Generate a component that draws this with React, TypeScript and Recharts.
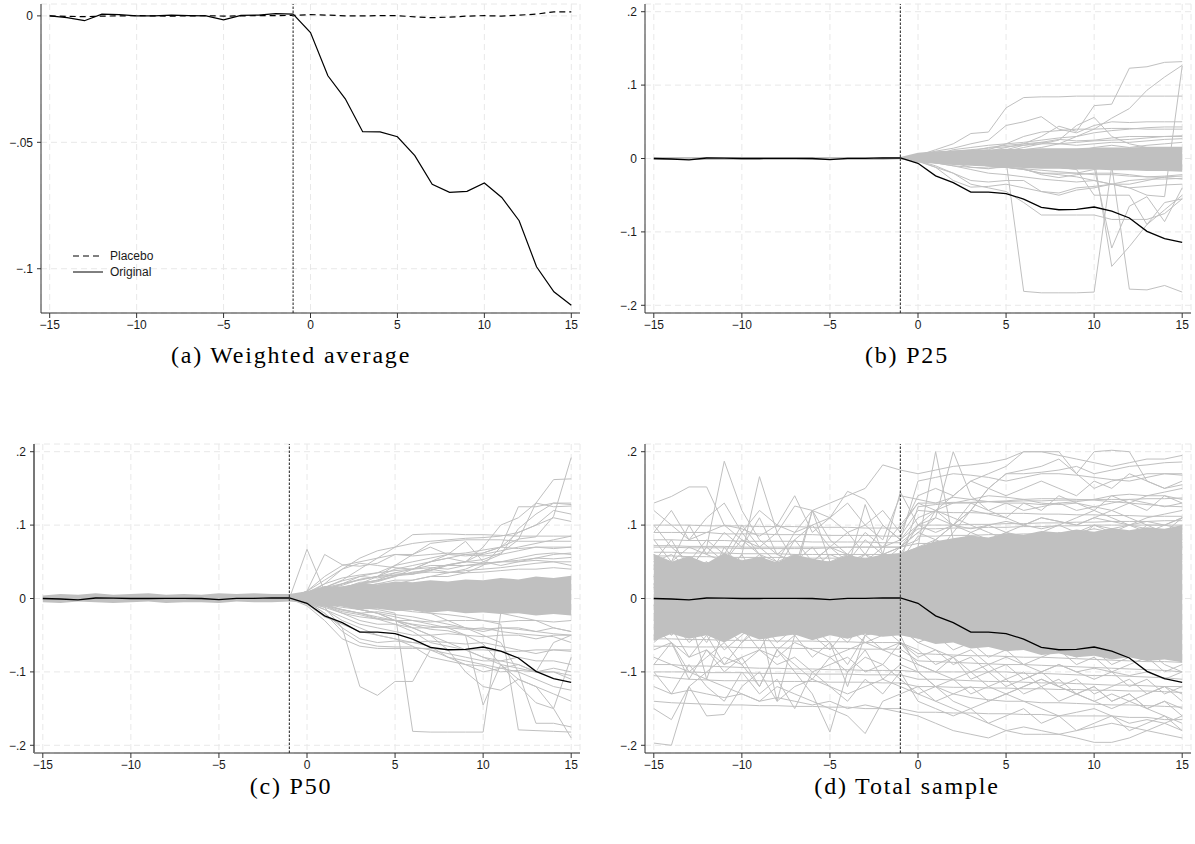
import { ComposedChart, Line, Area, XAxis, YAxis, CartesianGrid, ReferenceLine, Legend } from 'recharts'

// event time, periods relative to treatment
const periods = [-15, -14, -13, -12, -11, -10, -9, -8, -7, -6, -5, -4, -3, -2, -1, 0, 1, 2, 3, 4, 5, 6, 7, 8, 9, 10, 11, 12, 13, 14, 15]
const xTicks = [-15, -10, -5, 0, 5, 10, 15]
const avgTicks = [-0.1, -0.05, 0]
const spreadTicks = [-0.2, -0.1, 0, 0.1, 0.2]

const original = [0, -0.0007, -0.0019, 0.0007, 0.0005, 0, 0, 0.0003, 0.0001, 0, -0.0016, 0.0002, 0.0003, 0.0009, 0.0007,
  -0.0066, -0.0237, -0.0328, -0.0458, -0.0459, -0.0478, -0.0553, -0.0666, -0.0698, -0.0694, -0.0661, -0.0718, -0.081, -0.0992, -0.1091, -0.1144]
const placebo = [0, -0.0002, -0.0003, -0.0001, 0, 0.0001, 0, -0.0001, 0, 0.0001, -0.0001, 0, 0.0001, 0.0001, 0.0002,
  0.0005, 0.0003, 0, 0, 0.0001, 0.0001, -0.0004, -0.0007, -0.0005, -0.0001, 0.0001, -0.0001, 0.0003, 0.0007, 0.0016, 0.0016]

// dense core of the grey bundles (low / high edge)
const p25Low = [-0.002, -0.002, -0.002, -0.002, -0.002, -0.002, -0.002, -0.002, -0.002, -0.002, -0.002, -0.002, -0.002, -0.002, -0.001,
  -0.005, -0.007, -0.009, -0.01, -0.011, -0.012, -0.013, -0.014, -0.014, -0.015, -0.015, -0.016, -0.016, -0.017, -0.017, -0.018]
const p25High = [0.002, 0.002, 0.002, 0.002, 0.002, 0.002, 0.002, 0.002, 0.002, 0.002, 0.002, 0.002, 0.002, 0.002, 0.002,
  0.008, 0.01, 0.011, 0.012, 0.012, 0.013, 0.013, 0.014, 0.014, 0.014, 0.015, 0.015, 0.015, 0.016, 0.016, 0.016]
const p50Low = [-0.005, -0.006, -0.004, -0.005, -0.006, -0.005, -0.004, -0.006, -0.005, -0.005, -0.006, -0.004, -0.005, -0.005, -0.004,
  -0.006, -0.011, -0.01, -0.015, -0.014, -0.017, -0.016, -0.019, -0.017, -0.02, -0.019, -0.021, -0.02, -0.023, -0.021, -0.023]
const p50High = [0.004, 0.006, 0.005, 0.007, 0.005, 0.006, 0.007, 0.005, 0.006, 0.005, 0.007, 0.006, 0.007, 0.006, 0.006,
  0.01, 0.017, 0.016, 0.021, 0.019, 0.023, 0.022, 0.025, 0.023, 0.026, 0.025, 0.028, 0.026, 0.03, 0.028, 0.031]
const totalLow = [-0.058, -0.048, -0.055, -0.05, -0.06, -0.047, -0.056, -0.052, -0.049, -0.057, -0.05, -0.055, -0.048, -0.052, -0.05,
  -0.055, -0.062, -0.06, -0.068, -0.066, -0.072, -0.07, -0.077, -0.075, -0.08, -0.078, -0.083, -0.08, -0.085, -0.083, -0.087]
const totalHigh = [0.06, 0.05, 0.058, 0.048, 0.062, 0.052, 0.057, 0.049, 0.06, 0.054, 0.05, 0.059, 0.055, 0.06, 0.062,
  0.07, 0.078, 0.082, 0.086, 0.083, 0.089, 0.087, 0.092, 0.09, 0.094, 0.091, 0.096, 0.093, 0.097, 0.095, 0.1]

// P25 placebo paths, from t = -1 to 15
const p25Grey = [
  [0, 0.004, 0.012, 0.02, 0.034, 0.036, 0.069, 0.083, 0.084, 0.084, 0.085, 0.085, 0.085, 0.085, 0.085, 0.085, 0.085],
  [0, 0.002, 0.004, 0.006, 0.008, 0.01, 0.015, 0.02, 0.03, 0.044, 0.037, 0.072, 0.074, 0.123, 0.125, 0.131, 0.132],
  [0, 0.003, 0.005, 0.006, 0.008, 0.01, 0.01, 0.012, 0.015, 0.02, 0.03, 0.04, 0.055, 0.068, 0.093, 0.111, 0.127],
  [0, -0.001, -0.003, -0.005, -0.008, -0.01, -0.012, -0.015, -0.02, -0.022, -0.025, -0.03, -0.035, -0.04, -0.05, -0.052, 0.126],
  [0, 0.004, 0.01, 0.014, 0.02, 0.025, 0.045, 0.05, 0.057, 0.04, 0.035, 0.045, 0.05, 0.049, 0.05, 0.05, 0.05],
  [0, 0.002, 0.004, 0.006, 0.008, 0.009, 0.01, 0.015, 0.02, 0.025, 0.045, 0.056, 0.03, 0.02, 0.015, 0.01, 0.01],
  [0, 0.003, 0.006, 0.008, 0.01, 0.012, 0.02, 0.03, 0.036, 0.038, 0.04, 0.04, 0.041, 0.041, 0.04, 0.04, 0.04],
  [0, 0.002, 0.004, 0.008, 0.01, 0.011, 0.012, 0.018, 0.022, 0.026, 0.024, 0.025, 0.028, 0.03, 0.03, 0.03, 0.031],
  [0, -0.002, -0.004, -0.006, -0.005, -0.004, -0.003, -0.181, -0.183, -0.183, -0.183, -0.182, -0.01, -0.012, -0.01, -0.012, -0.01],
  [0, 0, -0.003, -0.005, -0.008, -0.01, -0.012, -0.015, -0.02, -0.02, -0.02, -0.015, -0.01, -0.178, -0.179, -0.173, -0.182],
  [0, 0.001, 0.002, 0.002, 0.003, 0.003, 0.004, 0.004, 0.004, 0.003, 0.002, 0, -0.147, -0.12, -0.09, -0.07, -0.05],
  [0, -0.001, -0.002, -0.003, -0.004, -0.005, -0.006, -0.007, -0.008, -0.008, -0.01, -0.012, -0.122, -0.065, -0.052, -0.086, -0.04],
  [0, -0.004, -0.012, -0.02, -0.035, -0.04, -0.045, -0.06, -0.077, -0.077, -0.077, -0.077, -0.083, -0.083, -0.083, -0.075, -0.055],
  [0, -0.003, -0.012, -0.03, -0.039, -0.038, -0.035, -0.04, -0.045, -0.05, -0.043, -0.04, -0.035, -0.03, -0.028, -0.028, -0.027],
  [0, -0.003, -0.01, -0.02, -0.03, -0.032, -0.03, -0.03, -0.045, -0.047, -0.04, -0.038, -0.035, -0.035, -0.03, -0.025, -0.024],
  [0, -0.002, -0.006, -0.01, -0.012, -0.013, -0.012, -0.014, -0.022, -0.026, -0.022, -0.02, -0.02, -0.022, -0.025, -0.024, -0.022],
  [0, 0, -0.002, -0.004, -0.005, -0.006, -0.008, -0.01, -0.012, -0.012, -0.015, -0.05, -0.05, -0.05, -0.09, -0.06, -0.055],
  [0, 0.002, 0.005, 0.008, 0.01, 0.015, 0.018, 0.02, 0.022, 0.02, 0.018, 0.02, 0.022, 0.022, 0.024, 0.026, 0.027],
  [0, 0, -0.004, -0.006, -0.012, -0.014, -0.01, -0.008, -0.005, 0, 0.01, 0.015, 0.018, 0.015, 0.018, 0.02, 0.022],
  [0, 0.003, 0.006, 0.01, 0.012, 0.014, 0.016, 0.018, 0.02, 0.02, 0.022, 0.024, 0.025, 0.026, 0.028, 0.03, 0.03],
  [0, -0.002, -0.004, -0.006, -0.008, -0.01, -0.012, -0.014, -0.016, -0.018, -0.02, -0.022, -0.022, -0.024, -0.025, -0.026, -0.028],
  [0, 0.002, 0.005, 0.012, 0.015, 0.018, 0.02, 0.022, 0.025, 0.028, 0.03, 0.035, 0.038, 0.04, 0.042, 0.043, 0.043],
  [0, -0.003, -0.006, -0.01, -0.015, -0.02, -0.022, -0.025, -0.028, -0.03, -0.032, -0.03, -0.035, -0.04, -0.038, -0.036, -0.035],
]

// P50 placebo paths, from t = -1 to 15
const p50Grey = [
  [0, 0.067, 0.01, 0.008, 0.01, 0.012, 0.015, 0.01, 0.012, 0.015, 0.012, 0.01, 0.012, 0.015, 0.015, 0.013, 0.012],
  [0, 0.01, 0.06, 0.046, 0.044, 0.048, 0.06, 0.06, 0.07, 0.06, 0.062, 0.066, 0.07, 0.068, 0.07, 0.07, 0.07],
  [0, 0.006, 0.012, 0.014, 0.022, 0.024, 0.031, 0.033, 0.041, 0.046, 0.05, 0.062, 0.07, 0.081, 0.084, 0.112, 0.192],
  [0, 0.004, 0.011, 0.016, 0.019, 0.023, 0.03, 0.036, 0.038, 0.046, 0.05, 0.053, 0.062, 0.08, 0.13, 0.162, 0.163],
  [0, 0.006, 0.012, 0.02, 0.025, 0.03, 0.04, 0.045, 0.05, 0.055, 0.06, 0.062, 0.07, 0.125, 0.125, 0.13, 0.128],
  [0, 0.008, 0.015, 0.025, 0.04, 0.055, 0.07, 0.087, 0.088, 0.088, 0.087, 0.087, 0.086, 0.085, 0.085, 0.085, 0.085],
  [0, 0.006, 0.015, 0.02, 0.03, 0.035, 0.045, 0.06, 0.075, 0.078, 0.08, 0.08, 0.08, 0.078, 0.078, 0.078, 0.078],
  [0, 0.004, 0.01, 0.015, 0.02, 0.025, 0.03, 0.04, 0.05, 0.06, 0.078, 0.05, 0.045, 0.05, 0.055, 0.06, 0.062],
  [0, 0.006, 0.01, 0.014, 0.02, 0.025, 0.035, 0.04, 0.045, 0.045, 0.045, 0.048, 0.05, 0.05, 0.052, 0.05, 0.05],
  [0, 0.004, 0.01, 0.02, 0.026, 0.03, 0.032, 0.035, 0.04, 0.036, 0.035, 0.036, 0.038, 0.04, 0.04, 0.042, 0.04],
  [0, 0.003, 0.008, 0.01, 0.015, 0.02, 0.025, 0.025, 0.03, 0.035, 0.04, 0.05, 0.06, 0.095, 0.115, 0.13, 0.13],
  [0, 0.004, 0.008, 0.012, 0.016, 0.02, 0.02, 0.025, 0.03, 0.03, 0.035, 0.045, 0.07, 0.09, 0.1, 0.12, 0.115],
  [0, -0.003, -0.008, -0.01, -0.012, -0.015, -0.02, -0.181, -0.182, -0.182, -0.182, -0.182, -0.02, -0.025, -0.03, -0.04, -0.045],
  [0, -0.002, -0.005, -0.008, -0.01, -0.012, -0.015, -0.018, -0.02, -0.022, -0.025, -0.03, -0.035, -0.179, -0.18, -0.181, -0.182],
  [0, -0.004, -0.012, -0.04, -0.12, -0.132, -0.113, -0.113, -0.07, -0.08, -0.09, -0.1, -0.095, -0.09, -0.1, -0.1, -0.11],
  [0, -0.005, -0.009, -0.016, -0.02, -0.027, -0.03, -0.036, -0.042, -0.044, -0.05, -0.062, -0.09, -0.118, -0.142, -0.15, -0.19],
  [0, -0.002, -0.005, -0.01, -0.015, -0.02, -0.025, -0.03, -0.035, -0.04, -0.05, -0.145, -0.09, -0.11, -0.12, -0.15, -0.08],
  [0, -0.005, -0.015, -0.03, -0.04, -0.05, -0.055, -0.065, -0.08, -0.085, -0.09, -0.092, -0.1, -0.098, -0.1, -0.1, -0.105],
  [0, -0.004, -0.02, -0.045, -0.06, -0.065, -0.066, -0.066, -0.07, -0.075, -0.08, -0.085, -0.085, -0.08, -0.085, -0.085, -0.09],
  [0, -0.01, -0.03, -0.055, -0.065, -0.068, -0.068, -0.068, -0.068, -0.07, -0.07, -0.07, -0.072, -0.072, -0.07, -0.07, -0.07],
  [0, -0.006, -0.015, -0.025, -0.035, -0.04, -0.045, -0.05, -0.05, -0.048, -0.05, -0.052, -0.05, -0.05, -0.055, -0.05, -0.05],
  [0, -0.004, -0.01, -0.02, -0.03, -0.035, -0.035, -0.04, -0.04, -0.038, -0.04, -0.042, -0.04, -0.04, -0.045, -0.04, -0.045],
  [0, -0.003, -0.008, -0.015, -0.02, -0.025, -0.03, -0.03, -0.032, -0.03, -0.03, -0.03, -0.032, -0.03, -0.03, -0.032, -0.03],
  [0, -0.003, -0.008, -0.012, -0.015, -0.02, -0.03, -0.04, -0.05, -0.07, -0.1, -0.12, -0.125, -0.11, -0.12, -0.13, -0.14],
  [0, -0.002, -0.006, -0.01, -0.015, -0.02, -0.03, -0.04, -0.05, -0.06, -0.07, -0.08, -0.09, -0.095, -0.1, -0.06, -0.05],
  [0, -0.002, -0.004, -0.006, -0.008, -0.01, -0.012, -0.015, -0.02, -0.03, -0.04, -0.05, -0.06, -0.1, -0.17, -0.17, -0.175],
  [0, 0.01, 0.03, 0.045, 0.05, 0.055, 0.06, 0.058, 0.06, 0.062, 0.06, 0.058, 0.06, 0.065, 0.07, 0.068, 0.07],
  [0, 0.005, 0.02, 0.04, 0.048, 0.045, 0.042, 0.04, 0.05, 0.055, 0.05, 0.07, 0.1, 0.11, 0.13, 0.125, 0.126],
  [0, 0.008, 0.02, 0.028, 0.032, 0.035, 0.038, 0.04, 0.042, 0.04, 0.045, 0.046, 0.05, 0.052, 0.055, 0.054, 0.056],
  [0, -0.006, -0.012, -0.02, -0.025, -0.028, -0.03, -0.035, -0.038, -0.04, -0.042, -0.04, -0.045, -0.048, -0.05, -0.052, -0.06],
  [0, 0.004, 0.015, 0.024, 0.03, 0.028, 0.032, 0.034, 0.036, 0.035, 0.038, 0.04, 0.042, 0.045, 0.048, 0.05, 0.045],
  [0, -0.008, -0.025, -0.035, -0.045, -0.05, -0.055, -0.06, -0.058, -0.06, -0.062, -0.06, -0.065, -0.07, -0.075, -0.07, -0.072],
  [0, 0.01, 0.025, 0.04, 0.055, 0.065, 0.07, 0.075, 0.078, 0.08, 0.082, 0.083, 0.085, 0.09, 0.1, 0.11, 0.105],
  [0, -0.005, -0.02, -0.04, -0.055, -0.06, -0.058, -0.06, -0.065, -0.08, -0.085, -0.09, -0.095, -0.1, -0.11, -0.12, -0.125],
  [0, 0.003, 0.008, 0.012, 0.02, 0.03, 0.045, 0.05, 0.055, 0.06, 0.058, 0.06, 0.065, 0.07, 0.075, 0.08, 0.085],
  [0, -0.004, -0.01, -0.018, -0.022, -0.028, -0.035, -0.045, -0.06, -0.065, -0.07, -0.08, -0.085, -0.09, -0.1, -0.095, -0.1],
  [0, 0.005, 0.012, 0.018, 0.026, 0.03, 0.035, 0.033, 0.038, 0.045, 0.05, 0.048, 0.05, 0.055, 0.06, 0.062, 0.06],
  [0, -0.003, -0.01, -0.015, -0.02, -0.018, -0.022, -0.025, -0.03, -0.035, -0.04, -0.045, -0.04, -0.042, -0.045, -0.048, -0.05],
]

// total sample placebo paths, from t = -15 to 15
const totalGrey = [
  [0.13, 0.139, 0.152, 0.152, 0.1, 0.08, 0.06, 0.05, 0.06, 0.05, 0.07, 0.06, 0.05, 0.06, 0.07, 0.08, 0.12, 0.13, 0.135, 0.14, 0.138, 0.135, 0.13, 0.128, 0.13, 0.125, 0.12, 0.13, 0.14, 0.14, 0.135],
  [0.05, 0.06, 0.04, 0.07, 0.187, 0.12, 0.08, 0.06, 0.05, 0.04, 0.05, 0.04, 0.03, 0.04, 0.05, 0.06, 0.05, 0.07, 0.06, 0.05, 0.06, 0.07, 0.08, 0.07, 0.06, 0.07, 0.08, 0.07, 0.06, 0.07, 0.08],
  [0.03, 0.02, 0.04, 0.05, 0.03, 0.06, 0.166, 0.09, 0.05, 0.04, 0.03, 0.05, 0.06, 0.04, 0.05, 0.03, 0.04, 0.05, 0.03, 0.04, 0.06, 0.05, 0.04, 0.05, 0.06, 0.05, 0.04, 0.06, 0.05, 0.04, 0.05],
  [0.06, 0.05, 0.07, 0.06, 0.05, 0.08, 0.07, 0.09, 0.126, 0.12, 0.11, 0.146, 0.135, 0.1, 0.08, 0.1, 0.11, 0.1, 0.12, 0.115, 0.11, 0.1, 0.11, 0.105, 0.1, 0.11, 0.12, 0.11, 0.1, 0.1, 0.11],
  [0.02, 0.03, 0.02, 0.04, 0.05, 0.03, 0.04, 0.05, 0.04, 0.12, 0.13, 0.14, 0.15, 0.182, 0.175, 0.17, 0.175, 0.18, 0.182, 0.185, 0.19, 0.2, 0.2, 0.195, 0.19, 0.185, 0.18, 0.185, 0.19, 0.19, 0.195],
  [0.03, 0.04, 0.05, 0.03, 0.04, 0.05, 0.04, 0.03, 0.05, 0.04, 0.06, 0.05, 0.04, 0.05, 0.06, 0.1, 0.12, 0.14, 0.16, 0.17, 0.18, 0.2, 0.2, 0.2, 0.17, 0.15, 0.16, 0.165, 0.17, 0.17, 0.17],
  [0.01, 0.02, 0.03, 0.02, 0.01, 0.02, 0.03, 0.02, 0.03, 0.02, 0.03, 0.04, 0.03, 0.05, 0.06, 0.07, 0.2, 0.08, 0.06, 0.05, 0.07, 0.06, 0.05, 0.06, 0.07, 0.06, 0.05, 0.06, 0.07, 0.06, 0.07],
  [0.04, 0.03, 0.05, 0.04, 0.03, 0.02, 0.04, 0.05, 0.03, 0.04, 0.05, 0.04, 0.06, 0.05, 0.07, 0.09, 0.11, 0.2, 0.14, 0.12, 0.13, 0.12, 0.125, 0.13, 0.12, 0.125, 0.13, 0.135, 0.13, 0.125, 0.13],
  [0.02, 0.01, 0.02, 0.03, 0.02, 0.03, 0.02, 0.03, 0.04, 0.03, 0.02, 0.03, 0.04, 0.03, 0.04, 0.06, 0.08, 0.1, 0.12, 0.15, 0.17, 0.175, 0.18, 0.19, 0.17, 0.2, 0.202, 0.2, 0.16, 0.15, 0.155],
  [0.09, 0.09, 0.09, 0.09, 0.088, 0.088, 0.088, 0.087, 0.087, 0.087, 0.086, 0.086, 0.086, 0.085, 0.085, 0.12, 0.118, 0.117, 0.117, 0.116, 0.116, 0.116, 0.115, 0.115, 0.114, 0.114, 0.113, 0.113, 0.112, 0.112, 0.112],
  [0.07, 0.07, 0.069, 0.069, 0.069, 0.068, 0.068, 0.068, 0.068, 0.068, 0.069, 0.07, 0.07, 0.07, 0.07, 0.075, 0.075, 0.076, 0.076, 0.077, 0.077, 0.078, 0.077, 0.076, 0.075, 0.074, 0.074, 0.074, 0.075, 0.076, 0.076],
  [0.058, 0.058, 0.057, 0.057, 0.056, 0.056, 0.056, 0.056, 0.055, 0.055, 0.055, 0.055, 0.055, 0.055, 0.055, 0.06, 0.062, 0.063, 0.063, 0.064, 0.065, 0.066, 0.066, 0.067, 0.068, 0.068, 0.069, 0.07, 0.07, 0.07, 0.07],
  [0.12, 0.1, 0.08, 0.09, 0.1, 0.095, 0.085, 0.1, 0.09, 0.1, 0.11, 0.09, 0.1, 0.08, 0.14, 0.135, 0.13, 0.138, 0.135, 0.132, 0.13, 0.13, 0.128, 0.13, 0.132, 0.135, 0.14, 0.142, 0.14, 0.145, 0.15],
  [0, 0.01, 0.02, 0.01, 0, 0.02, 0.01, 0.02, 0.03, 0.02, 0.01, 0.02, 0.03, 0.02, 0.03, 0.04, 0.06, 0.09, 0.12, 0.15, 0.17, 0.17, 0.172, 0.175, 0.18, 0.17, 0.175, 0.18, 0.182, 0.185, 0.186],
  [-0.197, -0.2, -0.12, -0.1, -0.08, -0.09, -0.07, -0.08, -0.06, -0.07, -0.08, -0.07, -0.06, -0.07, -0.08, -0.09, -0.1, -0.11, -0.1, -0.12, -0.13, -0.12, -0.11, -0.12, -0.13, -0.14, -0.13, -0.14, -0.15, -0.16, -0.17],
  [-0.15, -0.165, -0.12, -0.16, -0.158, -0.12, -0.1, -0.14, -0.12, -0.11, -0.12, -0.13, -0.12, -0.11, -0.12, -0.13, -0.12, -0.14, -0.15, -0.14, -0.13, -0.14, -0.15, -0.16, -0.155, -0.15, -0.16, -0.17, -0.165, -0.17, -0.18],
  [-0.08, -0.09, -0.1, -0.11, -0.12, -0.13, -0.14, -0.12, -0.13, -0.14, -0.15, -0.16, -0.184, -0.14, -0.13, -0.12, -0.14, -0.15, -0.16, -0.17, -0.18, -0.185, -0.185, -0.185, -0.19, -0.196, -0.196, -0.19, -0.18, -0.17, -0.16],
  [-0.09, -0.09, -0.092, -0.092, -0.093, -0.094, -0.095, -0.095, -0.096, -0.096, -0.097, -0.097, -0.098, -0.098, -0.098, -0.1, -0.1, -0.1, -0.1, -0.1, -0.1, -0.102, -0.102, -0.103, -0.104, -0.105, -0.105, -0.106, -0.107, -0.108, -0.11],
  [-0.105, -0.108, -0.11, -0.111, -0.112, -0.112, -0.112, -0.113, -0.113, -0.113, -0.114, -0.114, -0.114, -0.115, -0.115, -0.12, -0.12, -0.121, -0.121, -0.122, -0.122, -0.123, -0.123, -0.124, -0.124, -0.125, -0.125, -0.126, -0.126, -0.127, -0.128],
  [-0.06, -0.04, -0.08, -0.05, -0.09, -0.06, -0.04, -0.07, -0.05, -0.08, -0.06, -0.09, -0.05, -0.07, -0.06, -0.08, -0.07, -0.09, -0.08, -0.1, -0.09, -0.11, -0.1, -0.09, -0.1, -0.11, -0.1, -0.12, -0.11, -0.13, -0.12],
  [0.05, 0.08, 0.04, 0.07, 0.05, 0.09, 0.06, 0.04, 0.08, 0.05, 0.07, 0.05, 0.08, 0.06, 0.07, 0.09, 0.08, 0.1, 0.09, 0.1, 0.09, 0.1, 0.095, 0.1, 0.09, 0.1, 0.095, 0.1, 0.105, 0.1, 0.11],
  [-0.14, -0.142, -0.143, -0.144, -0.145, -0.145, -0.146, -0.146, -0.147, -0.147, -0.148, -0.148, -0.15, -0.15, -0.15, -0.155, -0.155, -0.156, -0.156, -0.157, -0.157, -0.158, -0.158, -0.16, -0.16, -0.16, -0.16, -0.162, -0.162, -0.165, -0.165],
  [-0.04, -0.06, -0.1, -0.08, -0.06, -0.09, -0.12, -0.07, -0.1, -0.13, -0.182, -0.1, -0.08, -0.09, -0.06, -0.07, -0.09, -0.08, -0.1, -0.09, -0.11, -0.1, -0.12, -0.11, -0.13, -0.12, -0.14, -0.13, -0.15, -0.14, -0.16],
  [0, 0.02, -0.01, 0.03, 0.01, 0.04, 0.02, 0, 0.03, 0.05, 0.02, 0.04, 0.03, 0.06, 0.145, 0.1, 0.09, 0.1, 0.095, 0.1, 0.105, 0.1, 0.11, 0.105, 0.1, 0.11, 0.105, 0.1, 0.11, 0.115, 0.12],
  [0.04, 0.04, 0.04, 0.041, 0.041, 0.042, 0.042, 0.042, 0.043, 0.043, 0.044, 0.044, 0.045, 0.045, 0.045, 0.05, 0.05, 0.051, 0.052, 0.052, 0.053, 0.054, 0.054, 0.055, 0.056, 0.056, 0.057, 0.058, 0.058, 0.06, 0.06],
  [-0.02, -0.05, -0.03, -0.06, -0.02, -0.04, -0.07, -0.03, -0.05, -0.02, -0.04, -0.06, -0.03, -0.05, -0.04, -0.06, -0.05, -0.07, -0.06, -0.08, -0.07, -0.09, -0.08, -0.07, -0.09, -0.08, -0.1, -0.09, -0.08, -0.1, -0.09],
  [-0.12, -0.13, -0.125, -0.13, -0.135, -0.13, -0.14, -0.135, -0.14, -0.145, -0.14, -0.15, -0.145, -0.15, -0.155, -0.16, -0.17, -0.18, -0.185, -0.19, -0.18, -0.175, -0.18, -0.185, -0.18, -0.175, -0.17, -0.175, -0.18, -0.185, -0.19],
  [0.02, 0.03, 0.04, 0.03, 0.02, 0.03, 0.04, 0.05, 0.04, 0.03, 0.05, 0.06, 0.05, 0.07, 0.08, 0.16, 0.165, 0.17, 0.168, 0.165, 0.16, 0.165, 0.17, 0.17, 0.168, 0.165, 0.162, 0.16, 0.165, 0.17, 0.168],
  [0.1, 0.07, 0.05, 0.08, 0.06, 0.1, 0.07, 0.05, 0.09, 0.12, 0.08, 0.06, 0.09, 0.07, 0.1, 0.13, 0.12, 0.11, 0.1, 0.09, 0.08, 0.085, 0.09, 0.1, 0.11, 0.12, 0.11, 0.1, 0.09, 0.1, 0.095],
  [-0.07, -0.06, -0.08, -0.07, -0.09, -0.08, -0.07, -0.09, -0.08, -0.1, -0.09, -0.08, -0.1, -0.09, -0.11, -0.13, -0.14, -0.13, -0.12, -0.14, -0.13, -0.12, -0.11, -0.12, -0.13, -0.14, -0.15, -0.14, -0.13, -0.12, -0.13],
  [0.06, 0.03, 0.05, 0.02, 0.07, 0.04, 0.06, 0.03, 0.05, 0.07, 0.04, 0.06, 0.03, 0.05, 0.04, 0.07, 0.08, 0.07, 0.09, 0.08, 0.09, 0.085, 0.09, 0.08, 0.09, 0.095, 0.09, 0.1, 0.095, 0.09, 0.1],
  [-0.05, -0.03, -0.06, -0.04, -0.07, -0.05, -0.03, -0.06, -0.04, -0.05, -0.07, -0.04, -0.06, -0.05, -0.04, -0.06, -0.07, -0.08, -0.07, -0.09, -0.08, -0.09, -0.1, -0.09, -0.1, -0.095, -0.1, -0.105, -0.1, -0.11, -0.1],
  [0.072, 0.072, 0.071, 0.071, 0.071, 0.07, 0.07, 0.07, 0.07, 0.07, 0.07, 0.07, 0.07, 0.07, 0.07, 0.1, 0.1, 0.1, 0.101, 0.101, 0.102, 0.102, 0.103, 0.103, 0.104, 0.104, 0.105, 0.105, 0.105, 0.106, 0.106],
  [-0.065, -0.065, -0.066, -0.066, -0.066, -0.067, -0.067, -0.067, -0.068, -0.068, -0.068, -0.068, -0.069, -0.069, -0.069, -0.085, -0.086, -0.087, -0.088, -0.089, -0.09, -0.09, -0.091, -0.092, -0.093, -0.094, -0.095, -0.096, -0.097, -0.098, -0.1],
  [0.08, 0.05, 0.1, 0.06, 0.09, 0.07, 0.11, 0.06, 0.08, 0.1, 0.07, 0.09, 0.06, 0.1, 0.08, 0.11, 0.12, 0.1, 0.13, 0.12, 0.11, 0.13, 0.12, 0.14, 0.13, 0.12, 0.14, 0.13, 0.12, 0.14, 0.13],
  [-0.09, -0.06, -0.11, -0.07, -0.1, -0.08, -0.12, -0.07, -0.09, -0.11, -0.08, -0.1, -0.07, -0.11, -0.09, -0.1, -0.12, -0.11, -0.13, -0.12, -0.11, -0.13, -0.12, -0.14, -0.13, -0.12, -0.14, -0.13, -0.15, -0.14, -0.15],
  [0.045, 0.046, 0.046, 0.047, 0.047, 0.048, 0.048, 0.048, 0.049, 0.049, 0.05, 0.05, 0.05, 0.051, 0.051, 0.085, 0.085, 0.086, 0.086, 0.087, 0.087, 0.088, 0.088, 0.089, 0.089, 0.09, 0.09, 0.09, 0.091, 0.091, 0.092],
  [-0.055, -0.055, -0.056, -0.056, -0.057, -0.057, -0.057, -0.058, -0.058, -0.058, -0.059, -0.059, -0.06, -0.06, -0.06, -0.075, -0.076, -0.077, -0.078, -0.078, -0.079, -0.08, -0.08, -0.081, -0.082, -0.083, -0.084, -0.085, -0.086, -0.086, -0.087],
  [0.02, 0.04, 0.01, 0.05, 0.03, 0.06, 0.02, 0.05, 0.03, 0.12, 0.05, 0.04, 0.128, 0.06, 0.04, 0.05, 0.07, 0.06, 0.08, 0.07, 0.09, 0.08, 0.07, 0.09, 0.08, 0.1, 0.09, 0.08, 0.1, 0.09, 0.11],
  [-0.03, -0.05, -0.02, -0.11, -0.04, -0.06, -0.03, -0.14, -0.05, -0.04, -0.06, -0.12, -0.05, -0.04, -0.06, -0.09, -0.1, -0.08, -0.11, -0.1, -0.12, -0.11, -0.1, -0.12, -0.11, -0.13, -0.12, -0.11, -0.13, -0.12, -0.14],
  [0.03, 0.035, 0.03, 0.04, 0.035, 0.03, 0.04, 0.035, 0.03, 0.04, 0.035, 0.04, 0.045, 0.04, 0.05, 0.125, 0.128, 0.13, 0.13, 0.132, 0.133, 0.135, 0.136, 0.136, 0.135, 0.134, 0.132, 0.13, 0.128, 0.126, 0.125],
  [-0.03, -0.035, -0.03, -0.04, -0.035, -0.04, -0.045, -0.04, -0.035, -0.04, -0.045, -0.04, -0.05, -0.045, -0.05, -0.1, -0.12, -0.13, -0.135, -0.138, -0.14, -0.14, -0.142, -0.142, -0.143, -0.144, -0.145, -0.145, -0.146, -0.147, -0.148],
  [0.09, 0.12, 0.08, 0.11, 0.13, 0.09, 0.12, 0.1, 0.14, 0.09, 0.11, 0.13, 0.1, 0.12, 0.09, 0.14, 0.15, 0.14, 0.16, 0.15, 0.14, 0.15, 0.16, 0.15, 0.14, 0.16, 0.15, 0.17, 0.16, 0.15, 0.16],
  [-0.1, -0.13, -0.09, -0.12, -0.14, -0.1, -0.13, -0.11, -0.15, -0.1, -0.12, -0.14, -0.11, -0.13, -0.1, -0.14, -0.15, -0.16, -0.15, -0.17, -0.16, -0.15, -0.17, -0.16, -0.18, -0.17, -0.16, -0.18, -0.17, -0.16, -0.18],
  [0.015, -0.02, 0.03, -0.01, 0.04, 0, -0.03, 0.02, 0.05, -0.02, 0.03, 0.01, -0.02, 0.04, 0.02, 0.02, 0.04, 0.03, 0.05, 0.06, 0.05, 0.07, 0.06, 0.05, 0.07, 0.06, 0.08, 0.07, 0.06, 0.08, 0.09],
  [-0.01, 0.02, -0.03, 0.01, -0.04, -0.01, 0.02, -0.03, -0.05, 0.01, -0.02, -0.04, 0.01, -0.03, -0.02, -0.03, -0.05, -0.04, -0.06, -0.05, -0.07, -0.06, -0.05, -0.07, -0.08, -0.07, -0.09, -0.08, -0.07, -0.09, -0.1],
  [0.08, 0.08, 0.079, 0.079, 0.079, 0.078, 0.078, 0.078, 0.078, 0.077, 0.077, 0.077, 0.077, 0.076, 0.076, 0.095, 0.095, 0.096, 0.096, 0.097, 0.097, 0.098, 0.098, 0.099, 0.099, 0.1, 0.1, 0.1, 0.1, 0.1, 0.1],
  [-0.1, -0.1, -0.1, -0.101, -0.101, -0.101, -0.102, -0.102, -0.102, -0.103, -0.103, -0.103, -0.104, -0.104, -0.104, -0.11, -0.11, -0.111, -0.112, -0.113, -0.113, -0.114, -0.115, -0.115, -0.116, -0.117, -0.118, -0.118, -0.119, -0.12, -0.12],
  [0.1, 0.1, 0.1, 0.099, 0.099, 0.099, 0.098, 0.098, 0.098, 0.097, 0.097, 0.097, 0.096, 0.096, 0.096, 0.13, 0.13, 0.131, 0.131, 0.132, 0.132, 0.133, 0.133, 0.134, 0.134, 0.135, 0.135, 0.135, 0.136, 0.136, 0.137],
  [0.063, 0.063, 0.062, 0.062, 0.062, 0.061, 0.061, 0.061, 0.06, 0.06, 0.06, 0.06, 0.06, 0.06, 0.06, 0.065, 0.066, 0.067, 0.068, 0.069, 0.07, 0.07, 0.071, 0.072, 0.073, 0.073, 0.074, 0.074, 0.075, 0.075, 0.076],
]

const GREY = '#c0c0c0'
const AXIS = '#333'
const tickFont = { fontFamily: '"Liberation Sans", Arial, sans-serif', fontSize: 12, fill: '#1a1a1a' }
const captionFont = { fontFamily: '"Liberation Serif", "Times New Roman", serif', fontSize: 24, letterSpacing: 1.8, color: '#000' }

// Stata-like labels: ".1", "−.05", "−15"
const fmt = (v: number) => {
  if (v === 0) return '0'
  const s = String(Math.abs(v)).replace(/^0\./, '.')
  return (v < 0 ? '\u2212' : '') + s
}

function buildRows(lines: number[][], start: number, low: number[], high: number[]) {
  return periods.map((t, i) => {
    const row: Record<string, any> = { t, original: original[i], band: [low[i], high[i]] }
    lines.forEach((vals, k) => {
      const j = t - start
      row['g' + k] = j >= 0 && j < vals.length ? vals[j] : null
    })
    return row
  })
}

const avgRows = periods.map((t, i) => ({ t, original: original[i], placebo: placebo[i] }))
const p25Rows = buildRows(p25Grey, -1, p25Low, p25High)
const p50Rows = buildRows(p50Grey, -1, p50Low, p50High)
const totalRows = buildRows(totalGrey, -15, totalLow, totalHigh)

const legendOrder = ['placebo', 'original']
const legendDash: Record<string, string | undefined> = { placebo: '6 4', original: undefined }

function LegendBox({ payload }: any) {
  const items = [...(payload || [])].sort(
    (a: any, b: any) => legendOrder.indexOf(a.dataKey) - legendOrder.indexOf(b.dataKey)
  )
  return (
    <div style={{ fontFamily: tickFont.fontFamily, fontSize: 12, color: '#1a1a1a' }}>
      {items.map((entry: any) => (
        <div key={entry.dataKey} style={{ display: 'flex', alignItems: 'center', height: 16 }}>
          <svg width={32} height={10}>
            <line x1={1} y1={5} x2={31} y2={5} stroke="#000" strokeWidth={1} strokeDasharray={legendDash[entry.dataKey]} />
          </svg>
          <span style={{ marginLeft: 6 }}>{entry.value}</span>
        </div>
      ))}
    </div>
  )
}

function Caption({ text, cx, cy }: { text: string; cx: number; cy: number }) {
  return (
    <div style={{ position: 'absolute', left: cx - 200, top: cy - 15, width: 400, textAlign: 'center', lineHeight: '30px', ...captionFont }}>
      {text}
    </div>
  )
}

function SpreadPanel({ rows, count, left, top, width, height, margin, yWidth, yAxisStroke, yAxisWidth }: any) {
  return (
    <div style={{ position: 'absolute', left, top }}>
      <ComposedChart width={width} height={height} data={rows} margin={margin}>
        <CartesianGrid stroke="#e8e8e8" strokeDasharray="6 4" />
        <XAxis
          dataKey="t"
          type="number"
          domain={[-15.5, 15.5]}
          ticks={xTicks}
          interval={0}
          tickFormatter={fmt}
          tick={tickFont}
          tickSize={5}
          tickMargin={2}
          height={27}
          stroke={AXIS}
          allowDataOverflow
        />
        <YAxis
          type="number"
          domain={[-0.2105, 0.2105]}
          ticks={spreadTicks}
          interval={0}
          tickFormatter={fmt}
          tick={tickFont}
          tickSize={4}
          tickMargin={4}
          width={yWidth}
          stroke={yAxisStroke || AXIS}
          axisLine={{ stroke: yAxisStroke || AXIS, strokeWidth: yAxisWidth || 1 }}
          tickLine={{ stroke: AXIS }}
          allowDataOverflow
        />
        <Area dataKey="band" stroke="none" fill={GREY} fillOpacity={1} isAnimationActive={false} />
        {Array.from({ length: count }, (_, k) => (
          <Line
            key={k}
            dataKey={'g' + k}
            type="linear"
            stroke={GREY}
            strokeWidth={1}
            dot={false}
            activeDot={false}
            isAnimationActive={false}
          />
        ))}
        <Line dataKey="original" type="linear" stroke="#000" strokeWidth={1.3} dot={false} isAnimationActive={false} />
        <ReferenceLine x={-1} stroke="#444" strokeWidth={1.2} strokeDasharray="2.5 1.5" />
      </ComposedChart>
    </div>
  )
}

export default function App() {
  return (
    <div style={{ position: 'absolute', left: 0, top: 0, width: 1195, height: 844, background: '#fff', overflow: 'hidden' }}>
      <div style={{ position: 'absolute', left: 0, top: 0 }}>
        <ComposedChart width={590} height={340} data={avgRows} margin={{ top: 4, right: 10, bottom: 0, left: 0 }}>
          <CartesianGrid stroke="#e8e8e8" strokeDasharray="6 4" />
          <XAxis
            dataKey="t"
            type="number"
            domain={[-15.5, 15.5]}
            ticks={xTicks}
            interval={0}
            tickFormatter={fmt}
            tick={tickFont}
            tickSize={5}
            tickMargin={2}
            height={27}
            stroke={AXIS}
            allowDataOverflow
          />
          <YAxis
            type="number"
            domain={[-0.1175, 0.0047]}
            ticks={avgTicks}
            interval={0}
            tickFormatter={fmt}
            tick={tickFont}
            tickSize={4}
            tickMargin={4}
            width={41}
            stroke={AXIS}
            allowDataOverflow
          />
          <Line dataKey="placebo" name="Placebo" type="linear" stroke="#000" strokeWidth={1.2} strokeDasharray="6 4" dot={false} isAnimationActive={false} />
          <Line dataKey="original" name="Original" type="linear" stroke="#000" strokeWidth={1.2} dot={false} isAnimationActive={false} />
          <ReferenceLine x={-1} stroke="#444" strokeWidth={1.2} strokeDasharray="2.5 1.5" />
          <Legend
            layout="vertical"
            align="center"
            verticalAlign="middle"
            wrapperStyle={{ left: 72, top: 248, width: 'auto' }}
            content={LegendBox}
          />
        </ComposedChart>
      </div>

      <SpreadPanel rows={p25Rows} count={p25Grey.length} left={600} top={0} width={595} height={340}
        margin={{ top: 4, right: 4, bottom: 0, left: 0 }} yWidth={45} />
      <SpreadPanel rows={p50Rows} count={p50Grey.length} left={0} top={430} width={590} height={350}
        margin={{ top: 14, right: 10, bottom: 0, left: 0 }} yWidth={34} yAxisStroke="#777" yAxisWidth={2} />
      <SpreadPanel rows={totalRows} count={totalGrey.length} left={600} top={430} width={595} height={350}
        margin={{ top: 14, right: 4, bottom: 0, left: 0 }} yWidth={45} />

      <Caption text="(a) Weighted average" cx={291} cy={355} />
      <Caption text="(b) P25" cx={907} cy={355} />
      <Caption text="(c) P50" cx={291} cy={786} />
      <Caption text="(d) Total sample" cx={907} cy={786} />
    </div>
  )
}
